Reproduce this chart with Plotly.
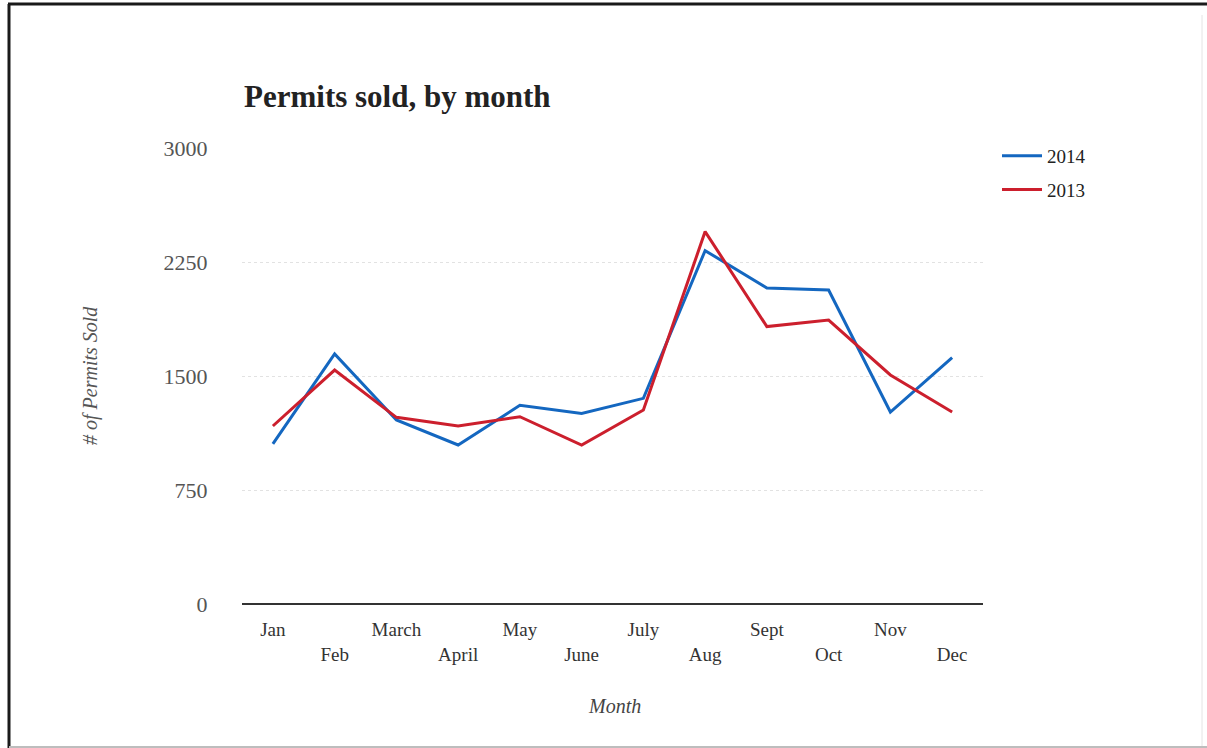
import plotly.graph_objects as go

# Monthly permit sales
months = ["Jan", "Feb", "March", "April", "May", "June",
          "July", "Aug", "Sept", "Oct", "Nov", "Dec"]
sales_2014 = [1053, 1645, 1211, 1046, 1307, 1254, 1353, 2325, 2079, 2066, 1263, 1621]
sales_2013 = [1171, 1539, 1228, 1171, 1232, 1046, 1276, 2450, 1825, 1868, 1507, 1263]
y_ticks = [0, 750, 1500, 2250, 3000]

SERIF = "Liberation Serif, Times New Roman, serif"
W, H = 1207, 748
L, R, T, B = 242, 224, 148, 144
PW, PH = W - L - R, H - T - B


def px(x):
    return (x - L) / PW


def py(y):
    return (H - B - y) / PH


# Staggered month labels: every second label drops to a second row
tick_text = [m if i % 2 == 0 else "<br>" + m for i, m in enumerate(months)]

fig = go.Figure()
fig.add_trace(go.Scatter(x=months, y=sales_2014, mode="lines", name="2014",
                         legendgroup="a", line=dict(color="#1467c0", width=3)))
fig.add_trace(go.Scatter(x=months, y=sales_2013, mode="lines", name="2013",
                         legendgroup="b", line=dict(color="#cc1f2d", width=3)))

fig.update_layout(
    width=W, height=H,
    margin=dict(l=L, r=R, t=T, b=B),
    paper_bgcolor="white", plot_bgcolor="white",
    font=dict(family=SERIF, color="#333"),
    showlegend=True,
    legend=dict(x=px(997), y=py(137), xanchor="left", yanchor="top",
                font=dict(size=19, color="#222"), bgcolor="rgba(0,0,0,0)",
                tracegroupgap=6, itemwidth=40),
    xaxis=dict(type="category", range=[-0.5, 11.5], showgrid=False,
               tickmode="array", tickvals=months, ticktext=tick_text,
               tickfont=dict(size=19, color="#333"), ticks="outside",
               ticklen=8, tickcolor="rgba(0,0,0,0)", showline=False,
               zeroline=False),
    yaxis=dict(range=[0, 3000], tickmode="array", tickvals=y_ticks,
               tickfont=dict(size=22, color="#555"), showgrid=True,
               gridcolor="#e2e2e2", griddash="dot", gridwidth=1,
               zeroline=True, zerolinecolor="#333", zerolinewidth=2,
               showline=False, ticks="outside", ticklen=29,
               tickcolor="rgba(0,0,0,0)"),
    annotations=[
        dict(text="<b>Permits sold, by month</b>", x=px(242), y=py(96),
             xref="paper", yref="paper", xanchor="left", yanchor="middle",
             showarrow=False, font=dict(size=31, color="#222", family=SERIF)),
        dict(text="<i>Month</i>", x=px(614), y=py(706), xref="paper", yref="paper",
             xanchor="center", yanchor="middle", showarrow=False,
             font=dict(size=20, color="#444", family=SERIF)),
        dict(text="<i># of Permits Sold</i>", x=px(90), y=py(376), xref="paper",
             yref="paper", xanchor="center", yanchor="middle", textangle=-90,
             showarrow=False, font=dict(size=20, color="#555", family=SERIF)),
    ],
    shapes=[
        dict(type="line", xref="paper", yref="paper", x0=px(8), x1=px(W),
             y0=py(4), y1=py(4), line=dict(color="#1a1a1a", width=3)),
        dict(type="line", xref="paper", yref="paper", x0=px(9), x1=px(9),
             y0=py(4), y1=py(H), line=dict(color="#1a1a1a", width=3)),
        dict(type="line", xref="paper", yref="paper", x0=px(1202), x1=px(1202),
             y0=py(15), y1=py(H), line=dict(color="#e4e4e4", width=1)),
        dict(type="line", xref="paper", yref="paper", x0=px(9), x1=px(W),
             y0=py(747), y1=py(747), line=dict(color="#bdbdbd", width=2)),
    ],
)

fig.write_html("out.html")
